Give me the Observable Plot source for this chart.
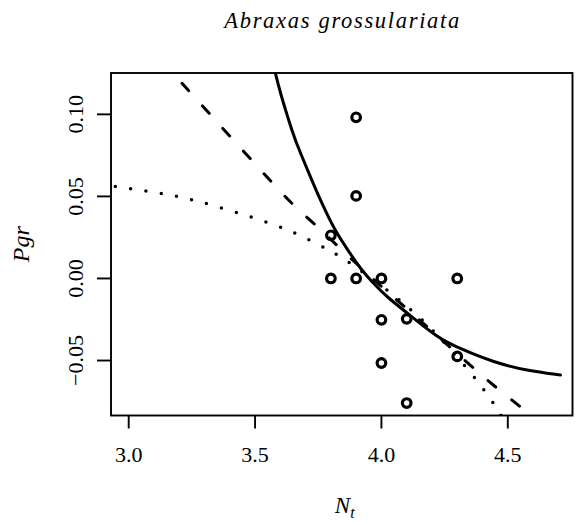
<!DOCTYPE html>
<html>
<head>
<meta charset="utf-8">
<script src="https://cdn.jsdelivr.net/npm/d3@7"></script>
<script src="https://cdn.jsdelivr.net/npm/@observablehq/plot@0.6"></script>
<style>
  html, body { margin: 0; padding: 0; background: white; }
  #chart svg, #chart svg text { font-family: "Liberation Serif", "DejaVu Serif", serif !important; }
</style>
</head>
<body>
<div id="chart"></div>
<script>
const title = "Abraxas grossulariata";
const yLabel = "Pgr";
const xLabelMain = "N";
const xLabelSub = "t";
const xTicks = [3.0, 3.5, 4.0, 4.5];
const yTicks = [-0.05, 0.00, 0.05, 0.10];

// observed points
const ptX = [3.9, 3.9, 3.8, 3.8, 3.9, 4.0, 4.3, 4.0, 4.1, 4.0, 4.3, 4.1];
const ptY = [0.0982, 0.0503, 0.0263, 0.0, 0.0, 0.0, 0.0, -0.0252, -0.0246, -0.0515, -0.0475, -0.0759];

// solid curve
const solidX = [3.5706, 3.5805, 3.6003, 3.6332, 3.6530, 3.7190, 3.7586, 3.8180, 3.8773, 3.9169, 3.9695, 4.0226, 4.1148, 4.2204, 4.3126, 4.4444, 4.5766, 4.7084];
const solidY = [0.1313, 0.1250, 0.1128, 0.0965, 0.0863, 0.0619, 0.0476, 0.0283, 0.0151, 0.0059, -0.0032, -0.0114, -0.0226, -0.0359, -0.0429, -0.0511, -0.0562, -0.0588];

// dashed curve
const dashX = [3.211, 3.554, 3.653, 3.755, 3.841, 3.950, 4.026, 4.125, 4.408, 4.507, 4.600];
const dashY = [0.1189, 0.0605, 0.0442, 0.0305, 0.0176, 0.0021, -0.0086, -0.0216, -0.0608, -0.0730, -0.0844];

// dotted curve
const dotX = [2.947, 3.136, 3.264, 3.571, 3.690, 3.802, 3.860, 4.016, 4.115, 4.207, 4.335, 4.418, 4.451, 4.475];
const dotY = [0.0561, 0.0518, 0.0480, 0.0335, 0.0256, 0.0164, 0.0114, -0.0061, -0.0186, -0.0318, -0.0537, -0.0703, -0.0779, -0.0840];

const points = ptX.map((x, i) => ({x, y: ptY[i]}));
const solid = solidX.map((x, i) => ({x, y: solidY[i]}));
const dashed = dashX.map((x, i) => ({x, y: dashY[i]}));
const dotted = dotX.map((x, i) => ({x, y: dotY[i]}));

const fmtY = d3.format(".2f");
const fmtX = d3.format(".1f");
const serif = "Liberation Serif, DejaVu Serif, serif";

const svg = Plot.plot({
  width: 577,
  height: 525,
  marginLeft: 110.5,
  marginRight: 5,
  marginTop: 72.5,
  marginBottom: 110,
  x: {domain: [2.93, 4.756], axis: null},
  y: {domain: [-0.0835, 0.1252], axis: null},
  style: {background: "white", color: "black"},
  marks: [
    Plot.dot(points, {x: "x", y: "y", r: 4.3, stroke: "black", strokeWidth: 3.2, fill: "none"}),
    Plot.line(solid, {x: "x", y: "y", curve: "basis", stroke: "black", strokeWidth: 3, clip: true}),
    Plot.line(dashed, {x: "x", y: "y", curve: "basis", stroke: "black", strokeWidth: 3, strokeDasharray: "10,20.5", strokeLinecap: "round", clip: true}),
    Plot.line(dotted, {x: "x", y: "y", curve: "basis", stroke: "black", strokeWidth: 3.5, strokeDasharray: "0,15.5", strokeLinecap: "round", clip: true}),
    Plot.frame({stroke: "black", strokeWidth: 1.9}),
    Plot.axisX({ticks: xTicks, tickSize: 13.5, tickPadding: 17.5, tickFormat: fmtX, fontSize: 22, fontFamily: serif, strokeWidth: 1.9, label: null}),
    Plot.axisY({ticks: yTicks, tickSize: 13.5, tickFormat: () => "", strokeWidth: 1.9, label: null}),
    Plot.text(yTicks, {y: d => d, text: d => fmtY(d), frameAnchor: "left", rotate: -90, textAnchor: "middle", lineAnchor: "bottom", dx: -28.5, fontSize: 22, fontFamily: serif}),
    Plot.text([title], {frameAnchor: "top", lineAnchor: "bottom", dy: -45.5, fontSize: 22.5, fontStyle: "italic", fontFamily: serif}),
    Plot.text([yLabel], {frameAnchor: "left", rotate: -90, textAnchor: "middle", lineAnchor: "bottom", dx: -82.5, fontSize: 24, fontStyle: "italic", fontFamily: serif}),
    Plot.text([xLabelMain + xLabelSub], {frameAnchor: "bottom", lineAnchor: "bottom", dx: 3, dy: 97, fontSize: 23, fontStyle: "italic", fontFamily: serif})
  ]
});

document.getElementById("chart").appendChild(svg);

// title width + subscript
d3.select(svg).selectAll("text").each(function() {
  const t = this.textContent;
  if (t === title) {
    d3.select(this).attr("textLength", 235).attr("lengthAdjust", "spacing");
  } else if (t === xLabelMain + xLabelSub) {
    const el = d3.select(this);
    el.text("");
    el.append("tspan").text(xLabelMain);
    el.append("tspan").attr("dy", 5).attr("font-size", 16).text(xLabelSub);
  }
});
</script>
</body>
</html>
